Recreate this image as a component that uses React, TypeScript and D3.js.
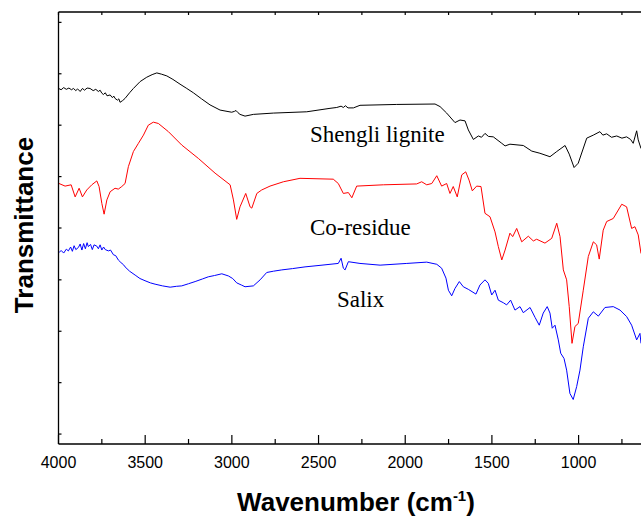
import React from "react";
import * as d3 from "d3";

// [wavenumber (cm-1), transmittance (a.u., offset)]
const shengli: [number, number][] = [
  [3999, 82.3], [3985, 82.0], [3970, 82.5], [3955, 82.1], [3940, 82.4], [3925, 82.0], [3914, 82.3], [3900, 81.8],
  [3890, 82.2], [3875, 81.6], [3862, 82.3], [3850, 81.9], [3835, 82.4], [3818, 82.3], [3800, 81.8], [3785, 82.1],
  [3770, 81.6], [3760, 81.9], [3750, 81.2], [3741, 80.9], [3730, 81.3], [3720, 80.6], [3702, 80.8], [3690, 80.2],
  [3680, 80.5], [3674, 80.0], [3660, 79.6], [3652, 79.9], [3645, 79.1], [3630, 79.5], [3616, 80.0], [3590, 81.3],
  [3568, 82.3], [3529, 83.9], [3491, 84.9], [3460, 85.5], [3433, 85.9], [3405, 85.6], [3375, 85.2], [3340, 84.4],
  [3299, 83.3], [3260, 82.3], [3222, 81.3], [3175, 79.9], [3126, 78.5], [3068, 77.3], [3001, 76.8], [2985, 77.0],
  [2976, 77.2], [2965, 76.7], [2953, 76.3], [2924, 75.9], [2876, 76.3], [2761, 76.6], [2568, 76.9], [2434, 77.7],
  [2395, 77.9], [2370, 78.2], [2357, 77.9], [2345, 78.3], [2330, 77.8], [2299, 77.8], [2261, 78.4], [2049, 78.6],
  [1828, 78.7], [1799, 78.1], [1761, 76.6], [1713, 74.4], [1684, 75.0], [1655, 74.8], [1636, 72.7], [1607, 70.5],
  [1578, 71.3], [1560, 71.0], [1540, 71.9], [1520, 71.2], [1492, 71.1], [1443, 69.6], [1424, 69.0], [1396, 69.4],
  [1319, 69.1], [1270, 67.8], [1223, 67.3], [1165, 66.5], [1126, 67.7], [1078, 69.1], [1054, 67.1], [1026, 64.0],
  [1002, 65.0], [953, 70.8], [915, 71.5], [877, 72.3], [860, 71.5], [838, 71.8], [810, 71.0], [780, 71.3],
  [750, 70.8], [723, 71.1], [700, 70.5], [685, 69.6], [665, 72.5], [656, 70.4], [640, 68.4],
];

const coResidue: [number, number][] = [
  [3997, 60.3], [3962, 59.7], [3927, 60.0], [3904, 57.2], [3881, 59.2], [3862, 57.2], [3837, 58.8], [3808, 60.0],
  [3779, 60.9], [3766, 59.6], [3750, 55.7], [3737, 53.2], [3721, 56.5], [3702, 58.4], [3674, 59.2], [3655, 59.0],
  [3635, 59.6], [3616, 60.3], [3597, 64.2], [3568, 67.7], [3539, 69.6], [3510, 71.5], [3482, 73.8], [3453, 74.5],
  [3424, 74.2], [3366, 72.3], [3289, 69.2], [3193, 66.1], [3097, 62.7], [3010, 60.0], [2991, 56.5], [2972, 52.0],
  [2953, 54.9], [2920, 58.0], [2895, 54.9], [2885, 54.6], [2856, 58.0], [2828, 58.8], [2780, 59.7], [2703, 60.7],
  [2607, 61.5], [2415, 61.3], [2386, 60.3], [2357, 58.0], [2328, 58.2], [2308, 57.0], [2280, 59.7], [2126, 60.0],
  [1934, 60.2], [1905, 60.7], [1876, 60.0], [1847, 60.3], [1818, 62.1], [1790, 59.7], [1761, 60.3], [1742, 58.0],
  [1723, 59.6], [1700, 57.2], [1674, 62.3], [1651, 63.0], [1632, 61.1], [1613, 58.6], [1588, 59.7], [1563, 59.6],
  [1540, 53.4], [1511, 52.6], [1482, 49.1], [1463, 45.7], [1443, 42.6], [1424, 44.9], [1396, 48.8], [1380, 48.0],
  [1357, 49.9], [1328, 46.8], [1290, 48.1], [1261, 47.0], [1242, 47.4], [1194, 46.5], [1155, 47.6], [1126, 51.1],
  [1107, 48.0], [1088, 40.3], [1069, 38.0], [1054, 31.8], [1038, 23.3], [1021, 27.2], [1002, 27.9], [973, 35.6],
  [944, 43.4], [915, 46.8], [896, 46.1], [881, 42.8], [858, 49.5], [838, 51.5], [800, 52.2], [751, 55.5],
  [723, 54.9], [694, 49.9], [675, 50.3], [656, 48.4], [640, 44.1],
];

const salix: [number, number][] = [
  [3997, 44.3], [3985, 44.8], [3970, 44.2], [3955, 45.1], [3943, 44.7], [3930, 45.6], [3920, 44.6], [3910, 45.9],
  [3900, 45.0], [3885, 45.5], [3875, 46.3], [3865, 44.9], [3855, 46.4], [3845, 45.2], [3835, 46.6], [3828, 45.7],
  [3815, 46.2], [3805, 45.0], [3795, 46.1], [3779, 45.8], [3770, 45.2], [3760, 46.1], [3750, 44.9], [3740, 45.6],
  [3730, 45.0], [3712, 44.7], [3700, 44.9], [3683, 43.8], [3670, 43.6], [3655, 42.6], [3640, 42.0], [3625, 41.5],
  [3616, 41.0], [3590, 40.0], [3558, 39.1], [3530, 38.3], [3501, 37.8], [3470, 37.3], [3443, 37.0], [3400, 36.6],
  [3356, 36.3], [3320, 36.5], [3289, 36.6], [3250, 37.1], [3212, 37.6], [3170, 38.2], [3136, 38.7], [3100, 39.0],
  [3058, 39.4], [3020, 38.9], [2995, 38.3], [2972, 37.3], [2945, 36.8], [2924, 36.4], [2876, 36.6], [2837, 38.0],
  [2799, 39.7], [2760, 40.0], [2712, 40.3], [2650, 40.6], [2578, 41.0], [2480, 41.4], [2386, 41.8], [2370, 43.0],
  [2357, 40.7], [2347, 40.3], [2328, 42.2], [2261, 41.8], [2145, 41.4], [1991, 41.8], [1876, 42.1], [1818, 41.6],
  [1790, 40.7], [1765, 38.4], [1751, 35.6], [1732, 34.3], [1713, 36.0], [1688, 37.6], [1665, 36.4], [1636, 35.8],
  [1592, 34.7], [1569, 36.8], [1540, 38.0], [1521, 37.2], [1501, 34.5], [1482, 35.6], [1463, 33.3], [1434, 32.7],
  [1415, 32.2], [1392, 33.3], [1367, 31.0], [1338, 31.8], [1319, 30.4], [1280, 31.6], [1251, 29.3], [1227, 27.5],
  [1204, 30.3], [1181, 31.8], [1165, 30.3], [1152, 26.8], [1136, 27.5], [1117, 24.1], [1103, 21.0], [1084, 19.8],
  [1069, 17.1], [1050, 11.7], [1031, 10.3], [1011, 13.3], [992, 17.1], [973, 22.5], [944, 29.1], [915, 30.6],
  [886, 29.6], [848, 31.6], [800, 31.8], [761, 31.0], [723, 29.5], [694, 27.5], [665, 24.1], [646, 25.6],
  [640, 23.3],
];

const seriesNames = ["Shengli lignite", "Co-residue", "Salix"];
const seriesColors = ["#000000", "#ff0000", "#0000ff"];
// label anchor in data units [wavenumber, value]
const labelPos: [number, number][] = [[2550, 69.9], [2550, 48.4], [2394, 31.8]];

const xMajorTicks = [4000, 3500, 3000, 2500, 2000, 1500, 1000];
const xMinorTicks = [3750, 3250, 2750, 2250, 1750, 1250, 750];
const yTicks = [2.3, 14.2, 26.1, 38.0, 50.0, 61.9, 73.8, 85.7, 97.6];

export default function App() {
  const W = 641, H = 518;
  const left = 58.5, right = 641, top = 12, bottom = 444;
  const x = d3.scaleLinear().domain([4000, 640]).range([left, right]);
  const y = d3.scaleLinear().domain([0, 100]).range([bottom, top]);
  const line = d3.line<[number, number]>().x((d) => x(d[0])).y((d) => y(d[1]));
  const data = [shengli, coResidue, salix];

  return (
    <svg width={W} height={H} style={{ position: "fixed", left: 0, top: 0, background: "#fff" }}>
      <defs>
        <clipPath id="plotClip">
          <rect x={left} y={top} width={right - left + 2} height={bottom - top} />
        </clipPath>
      </defs>
      <rect x={0} y={0} width={W} height={H} fill="#fff" />
      <g clipPath="url(#plotClip)">
        {data.map((d, i) => (
          <path key={i} d={line(d) || ""} fill="none" stroke={seriesColors[i]} strokeWidth={1} strokeLinejoin="round" />
        ))}
      </g>
      {/* frame */}
      <line x1={left} x2={right + 1} y1={top} y2={top} stroke="#000" strokeWidth={1.3} />
      <line x1={left} x2={right + 1} y1={bottom} y2={bottom} stroke="#000" strokeWidth={1.3} />
      <line x1={left} x2={left} y1={top} y2={bottom} stroke="#000" strokeWidth={1.3} />
      {/* x ticks */}
      {xMajorTicks.map((t) => (
        <g key={"M" + t}>
          <line x1={x(t)} x2={x(t)} y1={bottom} y2={bottom - 9} stroke="#000" strokeWidth={1.2} />
          <line x1={x(t)} x2={x(t)} y1={top} y2={top + 3} stroke="#000" strokeWidth={1.2} />
          <text x={x(t)} y={468} textAnchor="middle" fontFamily="Liberation Sans, Arial, sans-serif" fontSize={16} fill="#000">
            {t}
          </text>
        </g>
      ))}
      {xMinorTicks.map((t) => (
        <g key={"m" + t}>
          <line x1={x(t)} x2={x(t)} y1={bottom} y2={bottom - 5} stroke="#000" strokeWidth={1.2} />
          <line x1={x(t)} x2={x(t)} y1={top} y2={top + 3} stroke="#000" strokeWidth={1.2} />
        </g>
      ))}
      {yTicks.map((t) => (
        <line key={"y" + t} x1={left} x2={left + 3} y1={y(t)} y2={y(t)} stroke="#000" strokeWidth={1.2} />
      ))}
      {/* series labels */}
      {seriesNames.map((n, i) => (
        <text key={n} x={x(labelPos[i][0])} y={y(labelPos[i][1])} fontFamily="Liberation Serif, Times New Roman, serif" fontSize={23} fill="#000">
          {n}
        </text>
      ))}
      {/* axis titles */}
      <text x={356} y={511} textAnchor="middle" fontFamily="Liberation Sans, Arial, sans-serif" fontSize={26} fontWeight="bold" fill="#000">
        Wavenumber (cm<tspan dy={-10} fontSize={15}>-1</tspan><tspan dy={10}>)</tspan>
      </text>
      <text transform="translate(33,225) rotate(-90)" textAnchor="middle" fontFamily="Liberation Sans, Arial, sans-serif" fontSize={26} fontWeight="bold" fill="#000">
        Transmittance
      </text>
    </svg>
  );
}
